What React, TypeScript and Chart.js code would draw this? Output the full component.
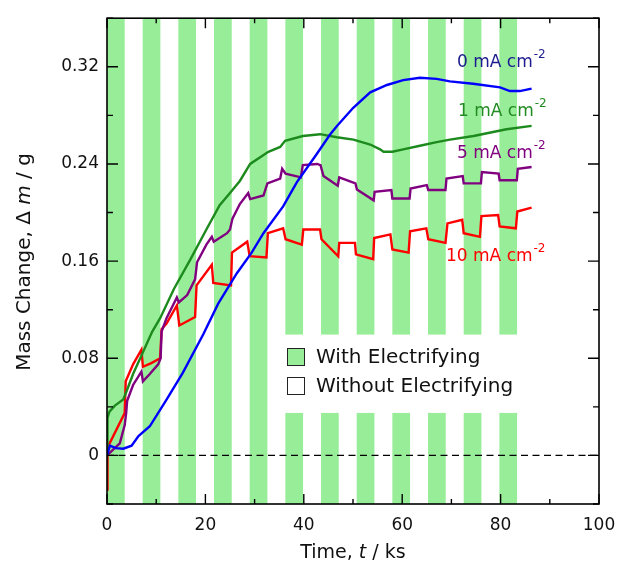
import { useEffect, useRef } from "react";
import { Chart, registerables } from "chart.js";

Chart.register(...registerables);

const FONT = "'DejaVu Sans', 'Liberation Sans', sans-serif";

// Electrifying periods (ks)
const stripeStart = [0, 7.25, 14.5, 21.75, 29, 36.25, 43.5, 50.75, 58, 65.25, 72.5, 79.75];
const stripeEnd = [3.6, 10.85, 18.1, 25.35, 32.6, 39.85, 47.1, 54.35, 61.6, 68.85, 76.1, 83.35];

// 0 mA cm-2
const blueT = [0, 0.6, 1.8, 3.3, 5.0, 6.4, 8.7, 12.1, 15.4, 19.6, 22.6, 26.4, 29.4, 31.8, 35.8, 38.6, 42.6, 45.3, 46.7, 50.0, 53.5, 56.9, 60.2, 63.6, 67.0, 69.7, 74.4, 79.9, 81.9, 83.9, 86.3];
const blueM = [0.0, 0.008, 0.006, 0.0055, 0.008, 0.016, 0.024, 0.046, 0.068, 0.1, 0.125, 0.15, 0.167, 0.183, 0.205, 0.225, 0.248, 0.264, 0.271, 0.286, 0.299, 0.305, 0.309, 0.311, 0.31, 0.308, 0.306, 0.303, 0.3, 0.3, 0.302];

// 1 mA cm-2
const greenT = [0, 0.1, 0.5, 1.6, 3.3, 3.9, 5.3, 7.3, 9.2, 10.8, 13.6, 16.9, 20.2, 22.9, 25.0, 27.0, 29.1, 32.8, 35.2, 36.2, 39.8, 43.3, 46.7, 50.1, 53.5, 55.5, 56.2, 58.0, 60.2, 63.6, 67.0, 69.7, 74.5, 81.2, 86.3];
const greenM = [0, 0.031, 0.036, 0.041, 0.046, 0.052, 0.067, 0.085, 0.102, 0.113, 0.137, 0.161, 0.186, 0.206, 0.216, 0.226, 0.24, 0.25, 0.254, 0.259, 0.263, 0.2645, 0.262, 0.26, 0.256, 0.252, 0.25, 0.25, 0.252, 0.255, 0.258, 0.26, 0.263, 0.2686, 0.2713];

// 5 mA cm-2
const purpleT = [0, 1.3, 2.6, 3.6, 3.9, 4.1, 5.3, 7.0, 7.3, 8.7, 10.4, 10.9, 11.1, 12.1, 14.2, 14.6, 16.3, 17.9, 18.3, 20.2, 21.3, 21.7, 24.4, 25.0, 25.5, 27.0, 28.7, 29.1, 31.8, 32.6, 35.2, 35.6, 36.3, 39.4, 39.8, 42.7, 43.4, 44.0, 46.9, 47.2, 50.5, 50.8, 54.2, 54.4, 57.8, 58.0, 61.5, 61.7, 65.0, 65.3, 68.8, 69.0, 72.3, 72.5, 76.0, 76.2, 79.6, 79.8, 83.3, 83.5, 86.3];
const purpleM = [0, 0.005, 0.01, 0.025, 0.035, 0.045, 0.058, 0.069, 0.061, 0.067, 0.075, 0.08, 0.102, 0.113, 0.13, 0.126, 0.132, 0.145, 0.159, 0.1736, 0.18, 0.176, 0.183, 0.186, 0.195, 0.207, 0.216, 0.211, 0.214, 0.224, 0.228, 0.236, 0.232, 0.229, 0.239, 0.24, 0.239, 0.23, 0.222, 0.229, 0.224, 0.219, 0.21, 0.217, 0.2185, 0.2116, 0.2116, 0.2198, 0.2225, 0.2185, 0.2185, 0.228, 0.23, 0.224, 0.224, 0.2334, 0.232, 0.2266, 0.2266, 0.236, 0.2375];

// 10 mA cm-2
const redT = [0, 0.1, 0.3, 3.6, 3.8, 5.3, 7.0, 7.3, 9.0, 10.8, 11.1, 12.1, 14.2, 14.7, 17.9, 18.2, 21.3, 21.6, 25.2, 25.4, 28.5, 29.0, 32.4, 32.7, 35.8, 36.3, 39.6, 39.9, 43.3, 43.6, 47.0, 47.2, 50.4, 50.6, 54.1, 54.3, 57.6, 58.0, 61.3, 61.6, 64.9, 65.3, 68.8, 69.2, 72.2, 72.5, 75.8, 76.1, 79.5, 79.8, 83.1, 83.4, 86.3];
const redM = [-0.028, 0.002, 0.008, 0.035, 0.061, 0.075, 0.087, 0.073, 0.076, 0.08, 0.104, 0.1085, 0.1235, 0.107, 0.114, 0.14, 0.157, 0.142, 0.14, 0.167, 0.176, 0.164, 0.163, 0.183, 0.187, 0.178, 0.1736, 0.186, 0.186, 0.178, 0.164, 0.175, 0.175, 0.1655, 0.1616, 0.179, 0.182, 0.1696, 0.167, 0.1846, 0.187, 0.178, 0.175, 0.191, 0.194, 0.183, 0.18, 0.197, 0.198, 0.1886, 0.187, 0.2008, 0.204];

const seriesNames = ["0 mA cm", "1 mA cm", "5 mA cm", "10 mA cm"];
const seriesSup = ["-2", "-2", "-2", "-2"];
const legendNames = ["With Electrifying", "Without Electrifying"];

const STRIPE = "#98ee98";
const LINE_COLORS = ["#0000ff", "#1d8a1d", "#800080", "#ff0000"];
const LABEL_COLORS = ["#1c1c90", "#238b23", "#800080", "#ff0000"];

type Run = { text: string; italic?: boolean };

function drawRuns(ctx: CanvasRenderingContext2D, runs: Run[], size: number, cx: number, cy: number) {
  let total = 0;
  for (const r of runs) {
    ctx.font = `${r.italic ? "italic " : ""}${size}px ${FONT}`;
    total += ctx.measureText(r.text).width;
  }
  let x = cx - total / 2;
  ctx.textBaseline = "middle";
  ctx.textAlign = "left";
  for (const r of runs) {
    ctx.font = `${r.italic ? "italic " : ""}${size}px ${FONT}`;
    ctx.fillText(r.text, x, cy);
    x += ctx.measureText(r.text).width;
  }
}

export default function App() {
  const ref = useRef<HTMLCanvasElement>(null);

  useEffect(() => {
    const canvas = ref.current;
    if (!canvas) return;
    const pts = (t: number[], m: number[]) => t.map((v, i) => ({ x: v, y: m[i] }));

    const decor = {
      id: "decor",
      beforeDatasetsDraw(chart: any) {
        const { ctx, chartArea: a, scales } = chart;
        const xs = scales.x;
        const ys = scales.y;
        ctx.save();
        // stripes
        ctx.fillStyle = STRIPE;
        for (let i = 0; i < stripeStart.length; i++) {
          const x0 = xs.getPixelForValue(stripeStart[i]);
          const x1 = xs.getPixelForValue(stripeEnd[i]);
          ctx.fillRect(x0, a.top, x1 - x0, a.bottom - a.top);
        }
        // legend background
        const lx0 = xs.getPixelForValue(34.4);
        const lx1 = xs.getPixelForValue(85.5);
        const ly0 = ys.getPixelForValue(0.0995);
        const ly1 = ys.getPixelForValue(0.035);
        ctx.fillStyle = "#ffffff";
        ctx.fillRect(lx0, ly0, lx1 - lx0, ly1 - ly0);
        // zero dashed line
        ctx.strokeStyle = "#000";
        ctx.lineWidth = 1.3;
        ctx.setLineDash([7, 4.5]);
        const y0 = ys.getPixelForValue(0);
        ctx.beginPath();
        ctx.moveTo(a.left, y0);
        ctx.lineTo(a.right, y0);
        ctx.stroke();
        ctx.setLineDash([]);
        // legend entries
        const sqX = 287;
        const rows = [357, 386];
        rows.forEach((cy, i) => {
          ctx.fillStyle = i === 0 ? STRIPE : "#ffffff";
          ctx.fillRect(sqX, cy - 8.5, 17, 17);
          ctx.strokeStyle = "#222";
          ctx.lineWidth = 1;
          ctx.strokeRect(sqX + 0.5, cy - 8.5, 17, 17);
          ctx.fillStyle = "#111";
          ctx.font = `20px ${FONT}`;
          ctx.textAlign = "left";
          ctx.textBaseline = "middle";
          ctx.fillText(legendNames[i], 316, cy + 1);
        });
        ctx.restore();
      },
      afterDatasetsDraw(chart: any) {
        const { ctx, chartArea: a, scales } = chart;
        const xs = scales.x;
        const ys = scales.y;
        ctx.save();
        // frame
        ctx.strokeStyle = "#000";
        ctx.lineWidth = 1.6;
        ctx.strokeRect(a.left, a.top, a.right - a.left, a.bottom - a.top);
        // ticks (inward)
        ctx.lineWidth = 1.4;
        ctx.beginPath();
        xs.ticks.forEach((t: any) => {
          const px = xs.getPixelForValue(t.value);
          const major = Math.round(t.value) % 20 === 0;
          const len = major ? 10 : 5;
          ctx.moveTo(px, a.bottom);
          ctx.lineTo(px, a.bottom - len);
          ctx.moveTo(px, a.top);
          ctx.lineTo(px, a.top + len);
        });
        ys.ticks.forEach((t: any) => {
          const py = ys.getPixelForValue(t.value);
          const k = Math.round(t.value / 0.04);
          const major = k % 2 === 0;
          const len = major ? 11 : 6;
          ctx.moveTo(a.left, py);
          ctx.lineTo(a.left + len, py);
          ctx.moveTo(a.right, py);
          ctx.lineTo(a.right - len, py);
        });
        ctx.stroke();

        // series labels
        const lab = [
          { x: 457, y: 67 },
          { x: 458, y: 116 },
          { x: 457, y: 158 },
          { x: 446, y: 261 },
        ];
        lab.forEach((p, i) => {
          ctx.fillStyle = LABEL_COLORS[i];
          ctx.textAlign = "left";
          ctx.textBaseline = "alphabetic";
          ctx.font = `17px ${FONT}`;
          ctx.fillText(seriesNames[i], p.x, p.y);
          const w = ctx.measureText(seriesNames[i]).width;
          ctx.font = `12px ${FONT}`;
          ctx.fillText(seriesSup[i], p.x + w + 1, p.y - 9);
        });
        ctx.restore();
      },
      afterDraw(chart: any) {
        const { ctx, chartArea: a } = chart;
        ctx.save();
        ctx.fillStyle = "#111";
        drawRuns(
          ctx,
          [{ text: "Time, " }, { text: "t", italic: true }, { text: " / ks" }],
          19,
          (a.left + a.right) / 2,
          553
        );
        ctx.translate(25, 262);
        ctx.rotate(-Math.PI / 2);
        drawRuns(
          ctx,
          [{ text: "Mass Change, Δ " }, { text: "m", italic: true }, { text: " / g" }],
          20,
          0,
          0
        );
        ctx.restore();
      },
    };

    const mk = (label: string, t: number[], m: number[], color: string) => ({
      label,
      data: pts(t, m),
      borderColor: color,
      backgroundColor: color,
      borderWidth: 2.4,
      pointRadius: 0,
      tension: 0,
      fill: false,
    });

    const chart = new Chart(canvas, {
      type: "line",
      data: {
        datasets: [
          mk("0 mA cm-2", blueT, blueM, LINE_COLORS[0]),
          mk("1 mA cm-2", greenT, greenM, LINE_COLORS[1]),
          mk("5 mA cm-2", purpleT, purpleM, LINE_COLORS[2]),
          mk("10 mA cm-2", redT, redM, LINE_COLORS[3]),
        ] as any,
      },
      options: {
        responsive: false,
        animation: false,
        layout: { padding: { left: 0, right: 30, top: 13, bottom: 0 } },
        plugins: { legend: { display: false }, tooltip: { enabled: false } },
        scales: {
          x: {
            type: "linear",
            min: 0,
            max: 100,
            grid: { display: false, drawTicks: false },
            border: { display: false },
            ticks: {
              stepSize: 10,
              padding: 11,
              maxRotation: 0,
              color: "#111",
              font: { family: FONT, size: 17 },
              callback: (v: any) => (Math.round(v) % 20 === 0 ? String(Math.round(v)) : ""),
            },
            afterFit: (s: any) => {
              s.height = 61;
            },
          },
          y: {
            type: "linear",
            min: -0.04,
            max: 0.36,
            grid: { display: false, drawTicks: false },
            border: { display: false },
            ticks: {
              stepSize: 0.04,
              padding: 8,
              color: "#111",
              font: { family: FONT, size: 17 },
              callback: (v: any) => {
                const k = Math.round(v / 0.04);
                if (k < 0 || k % 2 !== 0) return "";
                return k === 0 ? "0" : (k * 0.04).toFixed(2);
              },
            },
            afterFit: (s: any) => {
              s.width = 107;
            },
          },
        },
      } as any,
      plugins: [decor],
    });
    return () => chart.destroy();
  }, []);

  return (
    <div style={{ position: "absolute", left: 0, top: 0, width: 629, height: 565, background: "#fff" }}>
      <canvas ref={ref} width={629} height={565} style={{ display: "block" }} />
    </div>
  );
}
